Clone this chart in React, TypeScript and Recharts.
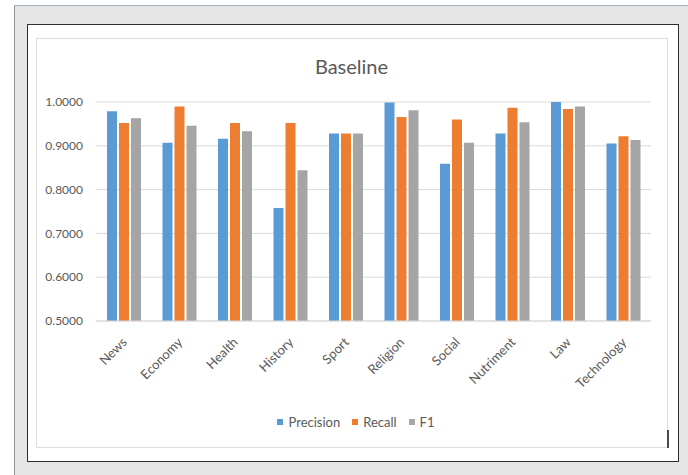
import React from "react";
import { BarChart, Bar, XAxis, YAxis, CartesianGrid, Legend } from "recharts";

const categories = ["News", "Economy", "Health", "History", "Sport", "Religion", "Social", "Nutriment", "Law", "Technology"];
const precision = [0.979, 0.907, 0.916, 0.758, 0.928, 0.999, 0.859, 0.928, 1.0, 0.905];
const recall = [0.952, 0.99, 0.952, 0.952, 0.928, 0.966, 0.96, 0.987, 0.984, 0.922];
const f1 = [0.963, 0.946, 0.933, 0.844, 0.928, 0.981, 0.907, 0.954, 0.99, 0.913];
const yTicks = [0.5, 0.6, 0.7, 0.8, 0.9, 1.0];

const series = [
  { key: "Precision", color: "#5b9bd5" },
  { key: "Recall", color: "#ed7d31" },
  { key: "F1", color: "#a5a5a5" },
];

const data = categories.map((name, i) => ({
  name,
  Precision: precision[i],
  Recall: recall[i],
  F1: f1[i],
}));

const FONT = "Lato, 'Noto Sans', sans-serif";
const TEXT = "#595959";

const CategoryTick = (props: any) => {
  const { x, y, payload } = props;
  return (
    <g transform={`translate(${x + 4},${y + 14})`}>
      <text textAnchor="end" fill={TEXT} fontSize={13} fontFamily={FONT} transform="rotate(-45)">
        {payload.value}
      </text>
    </g>
  );
};

const LegendContent = () => (
  <div style={{ display: "flex", justifyContent: "center", alignItems: "center", fontFamily: FONT, fontSize: 13, lineHeight: "16px", color: TEXT, paddingLeft: 20 }}>
    {series.map((s) => (
      <div key={s.key} style={{ display: "flex", alignItems: "center", marginRight: 12 }}>
        <span style={{ width: 6, height: 6, background: s.color, display: "inline-block", marginRight: 5 }} />
        <span>{s.key}</span>
      </div>
    ))}
  </div>
);

export default function App() {
  return (
    <div style={{ position: "absolute", left: 0, top: 0, width: 688, height: 475, background: "#ffffff", overflow: "hidden" }}>
      {/* outer window frame */}
      <div
        style={{
          position: "absolute",
          left: 14,
          top: 5,
          width: 690,
          height: 480,
          background: "#e5e5e5",
          borderLeft: "1.5px solid #8e969c",
          borderTop: "1.5px solid #a7b5bf",
          boxSizing: "border-box",
        }}
      />
      {/* chart object box */}
      <div
        style={{
          position: "absolute",
          left: 27,
          top: 24,
          width: 652,
          height: 438,
          background: "#ffffff",
          border: "1.5px solid #2e2e2e",
          boxSizing: "border-box",
        }}
      />
      {/* chart area */}
      <div
        style={{
          position: "absolute",
          left: 36,
          top: 38,
          width: 632,
          height: 410,
          border: "1px solid #dcdcdc",
          boxSizing: "border-box",
        }}
      />
      <div style={{ position: "absolute", left: 667, top: 430, width: 1.5, height: 18, background: "#4a4a4a" }} />
      <div
        style={{
          position: "absolute",
          left: 36,
          top: 54,
          width: 632,
          textAlign: "center",
          fontFamily: FONT,
          fontSize: 20,
          color: TEXT,
          paddingRight: 1,
          boxSizing: "border-box",
        }}
      >
        Baseline
      </div>
      <div style={{ position: "absolute", left: 36, top: 38 }}>
        <BarChart
          width={632}
          height={410}
          data={data}
          margin={{ top: 64, right: 17, left: 0, bottom: 51 }}
          barSize={10}
          barGap={2}
        >
          <CartesianGrid vertical={false} stroke="#d9d9d9" strokeWidth={1} />
          <XAxis
            dataKey="name"
            axisLine={{ stroke: "#d9d9d9" }}
            tickLine={false}
            interval={0}
            height={60}
            tick={<CategoryTick />}
          />
          <YAxis
            domain={[0.5, 1.0]}
            ticks={yTicks}
            width={60}
            axisLine={false}
            tickLine={false}
            tickMargin={7}
            tickFormatter={(v: number) => v.toFixed(4)}
            tick={{ fill: TEXT, fontSize: 12, fontFamily: FONT }}
          />
          {series.map((s) => (
            <Bar key={s.key} dataKey={s.key} fill={s.color} isAnimationActive={false} />
          ))}
          <Legend
            content={<LegendContent />}
            wrapperStyle={{ position: "absolute", top: 376, left: 0, width: 632 }}
          />
        </BarChart>
      </div>
    </div>
  );
}
